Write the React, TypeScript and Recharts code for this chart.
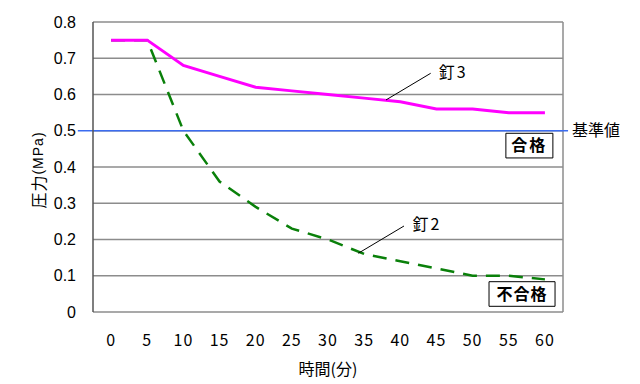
import {
  CartesianGrid,
  Label,
  Line,
  LineChart,
  ReferenceArea,
  ReferenceDot,
  ReferenceLine,
  XAxis,
  YAxis,
} from "recharts";

const minutes = [0, 5, 10, 15, 20, 25, 30, 35, 40, 45, 50, 55, 60];
const nail3 = [0.75, 0.75, 0.68, 0.65, 0.62, 0.61, 0.6, 0.59, 0.58, 0.56, 0.56, 0.55, 0.55];
const nail2 = [0.75, 0.75, 0.5, 0.36, 0.29, 0.23, 0.2, 0.16, 0.14, 0.12, 0.1, 0.1, 0.09];
const pressureTicks = [0, 0.1, 0.2, 0.3, 0.4, 0.5, 0.6, 0.7, 0.8];
// tick marks sit between the time categories
const bandEdges = [-2.5, 2.5, 7.5, 12.5, 17.5, 22.5, 27.5, 32.5, 37.5, 42.5, 47.5, 52.5, 57.5, 62.5];
const STANDARD = 0.5;

const GRID = "#8c8c8c";
const AXIS = "#333333";
const PINK = "#ff00ff";
const GREEN = "#0a800a";
const BLUE = "#3b6cf0";
const JP = "'Noto Sans CJK JP', sans-serif";
const NUM = "'Liberation Sans', Arial, sans-serif";

const data = minutes.map((t, i) => ({ t, nail3: nail3[i], nail2: nail2[i] }));

function YTitle(props: any) {
  const vb = props.viewBox;
  const cx = vb.x + 38;
  const cy = vb.y + vb.height / 2 + 3;
  return (
    <text
      x={cx}
      y={cy}
      transform={`rotate(-90, ${cx}, ${cy})`}
      textAnchor="middle"
      dominantBaseline="central"
      fontFamily={JP}
      fill="#000"
    >
      <tspan fontSize={16} letterSpacing={1}>圧力</tspan>
      <tspan fontSize={14} fontFamily={NUM} letterSpacing={1}>(MPa)</tspan>
    </text>
  );
}

export default function App() {
  return (
    <div style={{ position: "absolute", left: 0, top: 0, width: 640, height: 384, background: "#fff" }}>
      <LineChart width={640} height={384} data={data} margin={{ top: 22, right: 77, left: 0, bottom: 0 }}>
        <CartesianGrid vertical={false} stroke={GRID} strokeWidth={1.5} />
        <XAxis
          xAxisId="edges"
          type="number"
          dataKey="t"
          domain={[-2.5, 62.5]}
          ticks={bandEdges}
          tick={false}
          mirror
          tickSize={6}
          height={0}
          axisLine={{ stroke: AXIS, strokeWidth: 1.5 }}
          tickLine={{ stroke: AXIS, strokeWidth: 1.2 }}
        />
        <XAxis
          type="number"
          dataKey="t"
          domain={[-2.5, 62.5]}
          ticks={minutes}
          tickLine={false}
          axisLine={false}
          height={72}
          tickMargin={17}
          tick={{ fontSize: 16, fill: "#000", fontFamily: JP, letterSpacing: 1 }}
        >
          <Label value="時間(分)" position="insideBottom" offset={9} fontSize={16} fill="#000" fontFamily={JP} />
        </XAxis>
        <YAxis
          type="number"
          domain={[0, 0.8]}
          ticks={pressureTicks}
          width={93}
          tickSize={0}
          tickMargin={17}
          tickFormatter={(v: number) => (v === 0 ? "0" : v.toFixed(1))}
          tick={{ fontSize: 16, fill: "#000", fontFamily: NUM }}
          axisLine={{ stroke: "#555", strokeWidth: 1.5 }}
        >
          <Label content={<YTitle />} />
        </YAxis>
        <ReferenceLine x={62.5} stroke={GRID} strokeWidth={1.5} />
        <ReferenceLine
          segment={[{ x: -4.6, y: STANDARD }, { x: 63.2, y: STANDARD }]}
          ifOverflow="visible"
          stroke={BLUE}
          strokeWidth={1.5}
          label={{ value: "基準値", position: "right", offset: 4, fontSize: 16, fill: "#000", fontFamily: JP }}
        />
        <Line
          dataKey="nail2"
          stroke={GREEN}
          strokeWidth={2.5}
          strokeDasharray="14 9"
          dot={false}
          isAnimationActive={false}
        />
        <Line dataKey="nail3" stroke={PINK} strokeWidth={3} dot={false} isAnimationActive={false} />
        <ReferenceLine
          segment={[{ x: 44.2, y: 0.6585 }, { x: 38.02, y: 0.585 }]}
          ifOverflow="visible"
          stroke="#000"
          strokeWidth={1}
        />
        <ReferenceLine
          segment={[{ x: 40.51, y: 0.2372 }, { x: 34.19, y: 0.162 }]}
          ifOverflow="visible"
          stroke="#000"
          strokeWidth={1}
        />
        <ReferenceDot
          x={47.3}
          y={0.661}
          r={0}
          ifOverflow="visible"
          label={{ value: "釘3", position: "center", fontSize: 16, fill: "#000", fontFamily: JP, letterSpacing: 2 }}
        />
        <ReferenceDot
          x={43.7}
          y={0.241}
          r={0}
          ifOverflow="visible"
          label={{ value: "釘2", position: "center", fontSize: 16, fill: "#000", fontFamily: JP, letterSpacing: 2 }}
        />
        <ReferenceArea
          x1={54.6}
          x2={61.1}
          y1={0.425}
          y2={0.493}
          ifOverflow="visible"
          fill="#fff"
          fillOpacity={1}
          stroke="#000"
          strokeWidth={1}
          label={{ value: "合格", position: "center", fontSize: 16, fontWeight: "bold", fill: "#000", fontFamily: JP, letterSpacing: 2 }}
        />
        <ReferenceArea
          x1={52.27}
          x2={61.4}
          y1={0.0157}
          y2={0.0836}
          ifOverflow="visible"
          fill="#fff"
          fillOpacity={1}
          stroke="#000"
          strokeWidth={1}
          label={{ value: "不合格", position: "center", fontSize: 16, fontWeight: "bold", fill: "#000", fontFamily: JP, letterSpacing: 1 }}
        />
      </LineChart>
    </div>
  );
}
